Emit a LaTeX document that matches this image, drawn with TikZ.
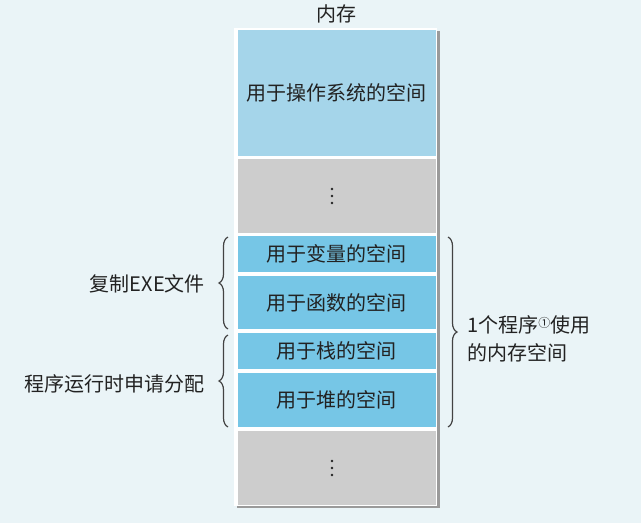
\documentclass[tikz,border=0pt]{standalone}
\usepackage{fontspec}
\setmainfont{Noto Sans CJK SC}
\usetikzlibrary{decorations.pathreplacing}
\definecolor{bg}{HTML}{EAF4F7}
\definecolor{osblue}{HTML}{A5D5EA}
\definecolor{pblue}{HTML}{76C6E6}
\definecolor{gblk}{HTML}{CDCDCD}
\definecolor{shadowc}{HTML}{9A9A9A}
\definecolor{txt}{HTML}{222222}
\tikzset{
  blk/.style={draw=none, minimum width=198pt, inner sep=0pt, text=txt, font=\fontsize{20}{24}\selectfont},
  lbl/.style={text=txt, font=\fontsize{20}{24}\selectfont, inner sep=0pt},
  brc/.style={decorate, decoration={brace, amplitude=9pt}, draw=txt!85, line width=1.2pt},
  dot/.style={fill=txt, circle, inner sep=0pt, minimum size=2.6pt},
}
\begin{document}
\begin{tikzpicture}[x=1pt,y=-1pt]
\useasboundingbox[fill=bg] (0,0) rectangle (641,523);
% shadow and white frame
\fill[shadowc] (237,31) rectangle (440,508);
\fill[white] (234,28) rectangle (437,506);
% blocks
\node[blk, fill=osblue, minimum height=126pt] (os) at (336.5,93) {用于操作系统的空间};
\node[blk, fill=gblk, minimum height=74pt] (g1) at (336.5,196) {};
\node[blk, fill=pblue, minimum height=36pt] (var) at (336.5,254) {用于变量的空间};
\node[blk, fill=pblue, minimum height=53pt] (fun) at (336.5,302.5) {用于函数的空间};
\node[blk, fill=pblue, minimum height=36pt] (stk) at (336.5,351) {用于栈的空间};
\node[blk, fill=pblue, minimum height=54pt] (hp) at (336.5,400) {用于堆的空间};
\node[blk, fill=gblk, minimum height=74pt] (g2) at (336.5,467.5) {};
% ellipsis dots
\node[dot] (d1) at (332,189) {};
\node[dot] (d2) at (332,196) {};
\node[dot] (d3) at (332,203) {};
\node[dot] (d4) at (332,461) {};
\node[dot] (d5) at (332,468) {};
\node[dot] (d6) at (332,475) {};
% title
\node[lbl] (title) at (336.5,14) {内存};
% braces
\coordinate (b1t) at (228,237);
\coordinate (b1b) at (228,329);
\coordinate (b2t) at (228,335);
\coordinate (b2b) at (228,427);
\coordinate (b3t) at (448,237);
\coordinate (b3b) at (448,427);
\draw[brc] (b1b) -- (b1t);
\draw[brc] (b2b) -- (b2t);
\draw[brc] (b3t) -- (b3b);
\node[lbl, anchor=east] (l1) at (205,284) {复制EXE文件};
\node[lbl, anchor=east] (l2) at (205,384) {程序运行时申请分配};
\node[lbl, anchor=west, align=left, font=\fontsize{20}{28}\selectfont] (l3) at (467,339) {1个程序\raisebox{0.5ex}{\fontsize{12}{12}\selectfont\char"2460}使用\\的内存空间};
\end{tikzpicture}
\end{document}
